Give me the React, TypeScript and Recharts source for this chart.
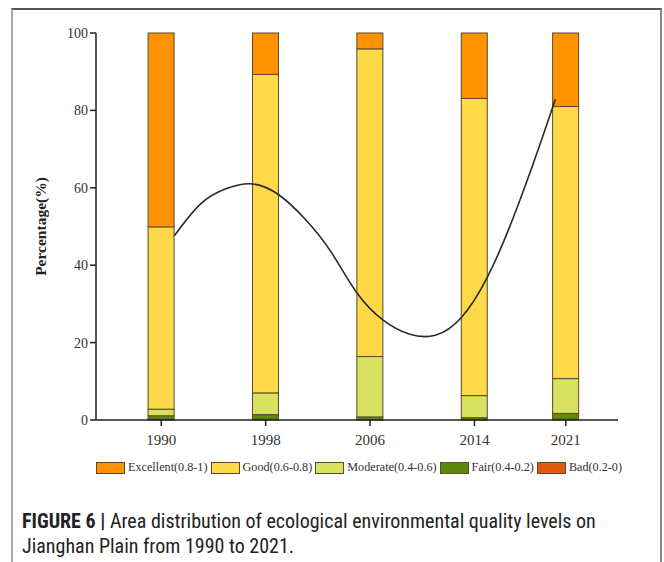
import React from "react";
import { ComposedChart, Bar, Line, XAxis, YAxis } from "recharts";

// Survey years (bar positions on a linear year axis)
const years = [1990, 1998, 2006, 2014, 2021];

// Share of area (%) in each quality level, per year
const bad = [0.2, 0.2, 0.1, 0.1, 0.2];
const fair = [0.9, 1.2, 0.7, 0.5, 1.5];
const moderate = [1.7, 5.6, 15.6, 5.7, 9.0];
const good = [47.1, 82.3, 79.5, 76.8, 70.3];
const excellent = [50.1, 10.7, 4.1, 16.9, 19.0];

// Fitted trend curve sampled along the year axis
const curveYears = [
  1991, 1993, 1995, 1997, 1999, 2001, 2003, 2005, 2007, 2009, 2011, 2013,
  2015, 2017, 2019, 2020.2,
];
const curveValues = [
  47.6, 55.8, 59.8, 61.0, 58.2, 52.0, 43.5, 32.8, 25.8, 22.2, 21.9, 26.5,
  37.0, 52.5, 71.0, 82.9,
];

const yTicks = [0, 20, 40, 60, 80, 100];

const levels = [
  { key: "bad", name: "Bad(0.2-0)", color: "#E0580F" },
  { key: "fair", name: "Fair(0.4-0.2)", color: "#5E8A0C" },
  { key: "moderate", name: "Moderate(0.4-0.6)", color: "#D7E25E" },
  { key: "good", name: "Good(0.6-0.8)", color: "#FFD947" },
  { key: "excellent", name: "Excellent(0.8-1)", color: "#FF9200" },
];

const legendOrder = ["excellent", "good", "moderate", "fair", "bad"];

const rows = years.map((year, i) => ({
  year,
  bad: bad[i],
  fair: fair[i],
  moderate: moderate[i],
  good: good[i],
  excellent: excellent[i],
}));

const curve = curveYears.map((year, i) => ({ year, value: curveValues[i] }));

const SERIF = "'Liberation Serif', 'Times New Roman', serif";
const AXIS = "#222";
const BAR_W = 26;

// Stacked segment drawn at a fixed width, centred on the slot the axis gives
function Segment(props: any) {
  const { x, y, width, height, fill } = props;
  if (height == null || height <= 0) return null;
  const cx = x + width / 2;
  return (
    <rect
      x={cx - BAR_W / 2}
      y={y}
      width={BAR_W}
      height={height}
      fill={fill}
      stroke="#5a4a2a"
      strokeWidth={1}
    />
  );
}

function LegendRow() {
  return (
    <div
      style={{
        display: "flex",
        alignItems: "center",
        fontFamily: SERIF,
        fontSize: 12.2,
        color: "#333",
        whiteSpace: "nowrap",
      }}
    >
      {legendOrder.map((k) => {
        const lv = levels.find((l) => l.key === k)!;
        return (
          <div
            key={k}
            style={{ display: "flex", alignItems: "center", marginRight: 3 }}
          >
            <span
              style={{
                display: "inline-block",
                width: 27,
                height: 10,
                background: lv.color,
                border: "1px solid #5a4a2a",
                marginRight: 3,
              }}
            />
            <span>{lv.name}</span>
          </div>
        );
      })}
    </div>
  );
}

export default function App() {
  return (
    <div
      style={{
        position: "fixed",
        left: 0,
        top: 0,
        width: 664,
        height: 562,
        background: "#fff",
        overflow: "hidden",
      }}
    >
      <div style={{ position: "absolute", left: 0, top: 0 }}>
        <ComposedChart
          width={664}
          height={480}
          data={rows}
          margin={{ top: 33, right: 46, bottom: 30, left: 36 }}
        >
          <XAxis
            dataKey="year"
            type="number"
            domain={[1985, 2025]}
            ticks={years}
            allowDataOverflow
            axisLine={{ stroke: AXIS, strokeWidth: 1.5 }}
            tickLine={{ stroke: AXIS, strokeWidth: 1.5 }}
            tickSize={6}
            tickMargin={8}
            tick={{ fill: "#333", fontFamily: SERIF, fontSize: 15 }}
            height={30}
          />
          <XAxis
            xAxisId="top"
            dataKey="year"
            type="number"
            domain={[1985, 2025]}
            orientation="top"
            tick={false}
            tickLine={false}
            axisLine={{ stroke: "#444", strokeWidth: 1.5 }}
            height={0}
          />
          <YAxis
            type="number"
            domain={[0, 100]}
            ticks={yTicks}
            axisLine={{ stroke: AXIS, strokeWidth: 1.5 }}
            tickLine={{ stroke: AXIS, strokeWidth: 1.5 }}
            tickSize={6}
            tick={{ fill: "#333", fontFamily: SERIF, fontSize: 14 }}
            width={60}
            label={{
              value: "Percentage(%)",
              angle: -90,
              position: "insideLeft",
              dx: -1,
              dy: 0,
              style: {
                fontFamily: SERIF,
                fontWeight: "bold",
                fontSize: 15.5,
                fill: "#222",
                textAnchor: "middle",
              },
            }}
          />
          <YAxis
            yAxisId="right"
            orientation="right"
            domain={[0, 100]}
            tick={false}
            tickLine={false}
            axisLine={{ stroke: "#444", strokeWidth: 1.5 }}
            width={0}
          />
          {levels.map((lv) => (
            <Bar
              key={lv.key}
              dataKey={lv.key}
              name={lv.name}
              stackId="area"
              fill={lv.color}
              shape={<Segment />}
              isAnimationActive={false}
            />
          ))}
          <Line
            data={curve}
            dataKey="value"
            type="natural"
            stroke="#2a2a2a"
            strokeWidth={1.6}
            dot={false}
            activeDot={false}
            isAnimationActive={false}
          />
        </ComposedChart>
      </div>
      <div style={{ position: "absolute", left: 96, top: 460 }}>
        <LegendRow />
      </div>
      <div
        style={{
          position: "absolute",
          left: 11,
          top: 8,
          width: 651,
          height: 600,
          boxSizing: "border-box",
          borderTop: "2px solid #555",
          borderLeft: "2px solid #aaa",
          borderRight: "2px solid #888",
          pointerEvents: "none",
        }}
      />
      <div
        style={{
          position: "absolute",
          left: 22,
          top: 509,
          width: 636,
          fontFamily:
            "'Liberation Sans Narrow', 'Roboto Condensed', 'Arial Narrow', sans-serif",
          fontSize: 20,
          lineHeight: "25px",
          color: "#222",
        }}
      >
        <span style={{ fontWeight: "bold" }}>FIGURE 6 | </span>
        Area distribution of ecological environmental quality levels on
        <br />
        Jianghan Plain from 1990 to 2021.
      </div>
    </div>
  );
}
